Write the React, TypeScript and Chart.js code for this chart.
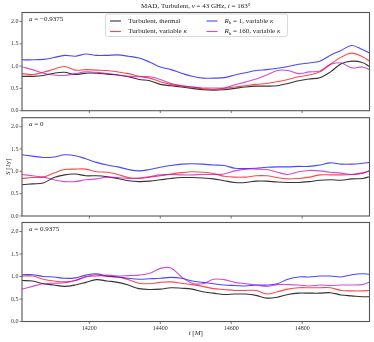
import React, { useEffect, useRef } from "react";
import { Chart, registerables } from "chart.js";
Chart.register(...registerables);

// ---------- data ----------
const times = [
  14010, 14040, 14070, 14100, 14130, 14160, 14190, 14220, 14250, 14280, 14310, 14340,
  14370, 14400, 14430, 14460, 14490, 14520, 14550, 14580, 14610, 14640, 14670, 14700,
  14730, 14760, 14790, 14820, 14850, 14880, 14910, 14940, 14970, 14990,
];

// a = -0.9375
const p1Thermal = [0.77, 0.77, 0.79, 0.84, 0.86, 0.81, 0.84, 0.84, 0.82, 0.80, 0.76, 0.70, 0.67, 0.59, 0.56, 0.53, 0.50, 0.47, 0.46, 0.47, 0.50, 0.53, 0.55, 0.55, 0.56, 0.61, 0.67, 0.71, 0.74, 0.87, 1.05, 1.11, 1.08, 0.99];
const p1Variable = [0.83, 0.81, 0.86, 0.93, 0.99, 0.91, 0.92, 0.91, 0.90, 0.87, 0.83, 0.77, 0.73, 0.65, 0.59, 0.55, 0.53, 0.49, 0.48, 0.50, 0.53, 0.56, 0.59, 0.61, 0.65, 0.70, 0.76, 0.80, 0.87, 1.04, 1.20, 1.29, 1.21, 1.11];
const p1Rh1 = [1.14, 1.14, 1.15, 1.19, 1.24, 1.22, 1.27, 1.24, 1.24, 1.25, 1.22, 1.18, 1.09, 0.98, 0.92, 0.84, 0.77, 0.73, 0.73, 0.74, 0.80, 0.85, 0.90, 0.92, 0.95, 0.99, 1.04, 1.07, 1.11, 1.24, 1.35, 1.46, 1.37, 1.29];
const p1Rh160 = [0.98, 0.92, 0.84, 0.80, 0.79, 0.83, 0.87, 0.86, 0.83, 0.80, 0.77, 0.76, 0.76, 0.70, 0.61, 0.56, 0.53, 0.51, 0.51, 0.51, 0.58, 0.64, 0.71, 0.80, 0.90, 0.90, 0.83, 0.87, 0.89, 1.04, 1.07, 0.96, 0.98, 0.92];

// a = 0
const p2Thermal = [0.70, 0.72, 0.74, 0.86, 0.92, 0.94, 0.90, 0.90, 0.88, 0.84, 0.79, 0.77, 0.78, 0.81, 0.84, 0.86, 0.86, 0.85, 0.83, 0.79, 0.75, 0.75, 0.78, 0.78, 0.76, 0.75, 0.75, 0.77, 0.80, 0.81, 0.80, 0.83, 0.84, 0.88];
const p2Variable = [0.84, 0.86, 0.87, 0.96, 1.04, 1.05, 1.05, 0.99, 0.98, 0.93, 0.86, 0.84, 0.87, 0.90, 0.94, 0.97, 0.99, 0.98, 0.95, 0.89, 0.87, 0.87, 0.90, 0.90, 0.86, 0.83, 0.84, 0.87, 0.92, 0.92, 0.92, 0.93, 0.96, 1.01];
const p2Rh1 = [1.37, 1.34, 1.31, 1.32, 1.37, 1.35, 1.28, 1.20, 1.14, 1.10, 1.04, 1.01, 1.04, 1.09, 1.13, 1.16, 1.17, 1.16, 1.14, 1.13, 1.07, 1.06, 1.07, 1.09, 1.10, 1.10, 1.11, 1.11, 1.14, 1.19, 1.16, 1.16, 1.18, 1.20];
const p2Rh160 = [0.93, 0.90, 0.87, 0.81, 0.77, 0.77, 0.81, 0.83, 0.87, 0.86, 0.84, 0.85, 0.88, 0.92, 0.93, 0.92, 0.92, 0.93, 0.93, 0.94, 1.01, 1.05, 1.05, 1.04, 0.98, 0.93, 0.99, 1.02, 1.01, 0.98, 0.96, 0.93, 0.96, 1.01];

// a = 0.9375
const p3Thermal = [0.91, 0.90, 0.84, 0.81, 0.78, 0.81, 0.87, 0.93, 0.90, 0.87, 0.81, 0.73, 0.71, 0.72, 0.75, 0.74, 0.72, 0.66, 0.63, 0.60, 0.61, 0.61, 0.58, 0.52, 0.54, 0.60, 0.63, 0.63, 0.63, 0.64, 0.59, 0.57, 0.55, 0.55];
const p3Variable = [1.01, 1.01, 0.94, 0.90, 0.88, 0.91, 1.00, 1.04, 1.00, 0.99, 0.93, 0.85, 0.84, 0.87, 0.88, 0.85, 0.82, 0.78, 0.73, 0.71, 0.69, 0.69, 0.69, 0.61, 0.66, 0.72, 0.75, 0.75, 0.75, 0.75, 0.69, 0.68, 0.68, 0.69];
const p3Rh1 = [1.04, 1.04, 1.00, 0.99, 0.96, 0.97, 1.03, 1.06, 1.01, 0.99, 0.96, 0.94, 0.95, 0.96, 0.98, 0.96, 0.90, 0.87, 0.84, 0.81, 0.80, 0.79, 0.81, 0.81, 0.84, 0.94, 0.99, 0.99, 1.01, 1.01, 0.99, 1.04, 1.06, 1.05];
const p3Rh160 = [0.72, 0.78, 0.84, 0.85, 0.86, 0.91, 0.99, 1.01, 1.03, 1.01, 1.02, 1.03, 1.07, 1.18, 1.19, 0.99, 0.85, 0.84, 0.94, 0.93, 0.87, 0.84, 0.81, 0.78, 0.82, 0.82, 0.81, 0.79, 0.81, 0.80, 0.81, 0.81, 0.82, 0.88];

const xTickValues = [14200, 14400, 14600, 14800];
const yTickValues = [0, 0.5, 1.0, 1.5, 2.0];
const xMin = 14010;
const xMax = 14990;
const yMin = 0;
const yMax = 2.2;

const seriesNames = ["Turbulent, thermal", "Turbulent, variable κ", "R_h = 1, variable κ", "R_h = 160, variable κ"];
const seriesColors = ["rgba(0,0,0,0.8)", "rgba(255,0,0,0.72)", "rgba(0,0,255,0.72)", "rgba(191,0,191,0.7)"];

type Seg = { t: string; it?: boolean; sub?: boolean };

const titleSegs: Seg[] = [
  { t: "MAD, Turbulent, " }, { t: "ν", it: true }, { t: " = 43 GHz, " }, { t: "i", it: true }, { t: " = 163°" },
];
const legendSegs: Seg[][] = [
  [{ t: "Turbulent, thermal" }],
  [{ t: "Turbulent, variable " }, { t: "κ", it: true }],
  [{ t: "R", it: true }, { t: "h", sub: true }, { t: " = 1, variable " }, { t: "κ", it: true }],
  [{ t: "R", it: true }, { t: "h", sub: true }, { t: " = 160, variable " }, { t: "κ", it: true }],
];
const panelLabels: Seg[][] = [
  [{ t: "a", it: true }, { t: " = −0.9375" }],
  [{ t: "a", it: true }, { t: " = 0" }],
  [{ t: "a", it: true }, { t: " = 0.9375" }],
];
const yLabelSegs: Seg[] = [{ t: "S", it: true }, { t: " [Jy]" }];
const xLabelSegs: Seg[] = [{ t: "t", it: true }, { t: " [" }, { t: "M", it: true }, { t: "]" }];

const panels = [
  { series: [p1Thermal, p1Variable, p1Rh1, p1Rh160], label: panelLabels[0] },
  { series: [p2Thermal, p2Variable, p2Rh1, p2Rh160], label: panelLabels[1] },
  { series: [p3Thermal, p3Variable, p3Rh1, p3Rh160], label: panelLabels[2] },
];

// ---------- layout ----------
const FONT = '"Liberation Serif", "DejaVu Serif", serif';
const W = 374;
const PLOT_LEFT = 22;
const PLOT_RIGHT_PAD = 4.5;
const canvases = [
  { top: 0, height: 113, padTop: 12.5, padBottom: 2.3, showX: false },
  { top: 113, height: 106, padTop: 4.7, padBottom: 3, showX: false },
  { top: 219, height: 123, padTop: 3.5, padBottom: 0, showX: true },
];

function drawRich(ctx: CanvasRenderingContext2D, segs: Seg[], x: number, y: number, size: number, align: "left" | "center") {
  const fontFor = (s: Seg) => `${s.it ? "italic " : ""}${s.sub ? size * 0.7 : size}px ${FONT}`;
  let total = 0;
  for (const s of segs) {
    ctx.font = fontFor(s);
    total += ctx.measureText(s.t).width;
  }
  let cx = align === "center" ? x - total / 2 : x;
  ctx.textAlign = "left";
  ctx.textBaseline = "middle";
  for (const s of segs) {
    ctx.font = fontFor(s);
    ctx.fillText(s.t, cx, y + (s.sub ? size * 0.28 : 0));
    cx += ctx.measureText(s.t).width;
  }
}

const framePlugin = {
  id: "frame",
  afterDatasetsDraw(chart: any) {
    const { ctx, chartArea: a, scales } = chart;
    ctx.save();
    ctx.strokeStyle = "#555";
    ctx.lineWidth = 1.1;
    ctx.strokeRect(a.left, a.top, a.right - a.left, a.bottom - a.top);
    ctx.beginPath();
    ctx.lineWidth = 0.8;
    for (const v of yTickValues) {
      const y = scales.y.getPixelForValue(v);
      ctx.moveTo(a.left - 2.5, y);
      ctx.lineTo(a.left, y);
    }
    for (const v of xTickValues) {
      const x = scales.x.getPixelForValue(v);
      ctx.moveTo(x, a.bottom);
      ctx.lineTo(x, a.bottom + 2.5);
    }
    ctx.stroke();
    ctx.restore();
  },
};

function makeTextPlugin(index: number, canvasTop: number) {
  return {
    id: "texts" + index,
    afterDraw(chart: any) {
      const { ctx, chartArea: a } = chart;
      const cxPlot = (a.left + a.right) / 2;
      ctx.save();
      ctx.fillStyle = "#222";
      drawRich(ctx, panels[index].label, a.left + 7, a.top + 6.5, 7, "left");
      if (index === 0) {
        drawRich(ctx, titleSegs, cxPlot, 5.8, 7, "center");
        const bx = 105.5, by = 14, bw = 182, bh = 22.5;
        ctx.beginPath();
        ctx.roundRect(bx, by, bw, bh, 2);
        ctx.fillStyle = "rgba(255,255,255,0.85)";
        ctx.fill();
        ctx.strokeStyle = "#d0d0d0";
        ctx.lineWidth = 0.8;
        ctx.stroke();
        const rows = [21, 31.5];
        const cols = [{ h: 110, t: 128.3 }, { h: 206.5, t: 224.5 }];
        for (let i = 0; i < 4; i++) {
          const col = cols[Math.floor(i / 2)];
          const ry = rows[i % 2];
          ctx.beginPath();
          ctx.strokeStyle = seriesColors[i];
          ctx.lineWidth = 1.1;
          ctx.moveTo(col.h, ry);
          ctx.lineTo(col.h + 11, ry);
          ctx.stroke();
          ctx.fillStyle = "#222";
          drawRich(ctx, legendSegs[i], col.t, ry, 7, "left");
        }
      }
      if (index === 1) {
        ctx.translate(8, (a.top + a.bottom) / 2);
        ctx.rotate(-Math.PI / 2);
        drawRich(ctx, yLabelSegs, 0, 0, 7, "center");
      }
      if (index === 2) {
        drawRich(ctx, xLabelSegs, cxPlot, 333.5 - canvasTop, 7, "center");
      }
      ctx.restore();
    },
  };
}

export default function App() {
  const refs = [useRef<HTMLCanvasElement>(null), useRef<HTMLCanvasElement>(null), useRef<HTMLCanvasElement>(null)];

  useEffect(() => {
    const charts: Chart[] = [];
    canvases.forEach((cv, idx) => {
      const el = refs[idx].current;
      if (!el) return;
      const datasets = panels[idx].series.map((vals, i) => ({
        label: seriesNames[i],
        data: times.map((t, j) => ({ x: t, y: vals[j] })),
        borderColor: seriesColors[i],
        backgroundColor: seriesColors[i],
        borderWidth: 1.1,
        pointRadius: 0,
        tension: 0.35,
        fill: false,
        order: 3 - i,
      }));
      const chart = new Chart(el, {
        type: "line",
        data: { datasets },
        options: {
          responsive: false,
          maintainAspectRatio: false,
          animation: false,
          events: [],
          layout: { padding: { top: cv.padTop, bottom: cv.padBottom, left: 0, right: PLOT_RIGHT_PAD } },
          plugins: { legend: { display: false }, tooltip: { enabled: false }, title: { display: false } },
          scales: {
            x: {
              type: "linear",
              min: xMin,
              max: xMax,
              display: cv.showX,
              grid: { display: false, drawTicks: false },
              border: { display: false },
              ticks: {
                font: { family: FONT, size: 6 },
                color: "#333",
                padding: 3.5,
                maxRotation: 0,
                autoSkip: false,
                callback: (v: any) => String(v),
              },
              afterBuildTicks: (s: any) => {
                s.ticks = xTickValues.map((v) => ({ value: v }));
              },
              afterFit: (s: any) => {
                if (cv.showX) s.height = 20.5;
                s.paddingLeft = 0;
                s.paddingRight = 0;
              },
            },
            y: {
              type: "linear",
              min: yMin,
              max: yMax,
              grid: { display: false, drawTicks: false },
              border: { display: false },
              ticks: {
                font: { family: FONT, size: 6 },
                color: "#333",
                padding: 3.5,
                autoSkip: false,
                callback: (v: any) => Number(v).toFixed(1),
              },
              afterBuildTicks: (s: any) => {
                s.ticks = yTickValues.map((v) => ({ value: v }));
              },
              afterFit: (s: any) => {
                s.width = PLOT_LEFT;
                s.paddingTop = 0;
                s.paddingBottom = 0;
              },
            },
          },
        } as any,
        plugins: [framePlugin, makeTextPlugin(idx, cv.top)],
      });
      charts.push(chart);
    });
    return () => charts.forEach((c) => c.destroy());
  }, []);

  return (
    <div style={{ position: "absolute", left: 0, top: 0, width: W, height: 342, background: "#fff" }}>
      {canvases.map((cv, idx) => (
        <canvas
          key={idx}
          ref={refs[idx]}
          width={W}
          height={cv.height}
          style={{ position: "absolute", left: 0, top: cv.top, width: W, height: cv.height }}
        />
      ))}
    </div>
  );
}
